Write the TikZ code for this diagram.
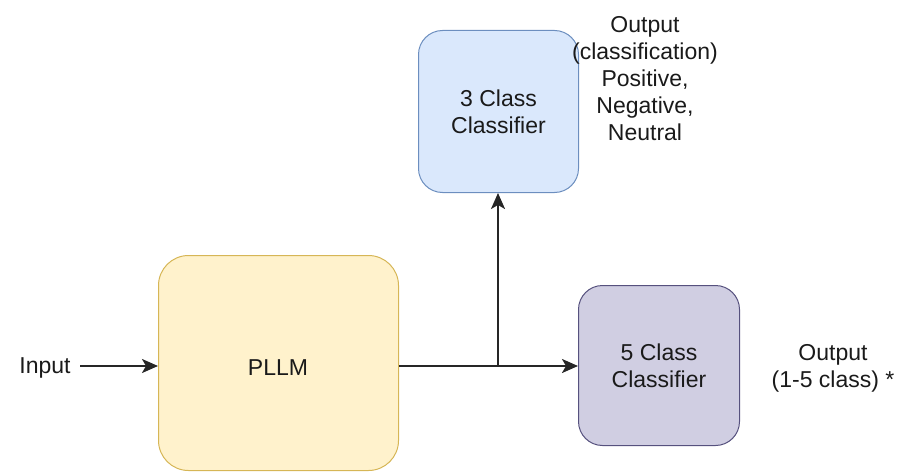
\documentclass[tikz,border=0pt]{standalone}
\usepackage{fontspec}
\setmainfont{Liberation Sans}
\usetikzlibrary{arrows.meta}
\definecolor{yfill}{HTML}{FFF2CC}\definecolor{ydraw}{HTML}{D6B656}
\definecolor{bfill}{HTML}{DAE8FC}\definecolor{bdraw}{HTML}{6C8EBF}
\definecolor{pfill}{HTML}{D0CEE2}\definecolor{pdraw}{HTML}{56517E}
\definecolor{txt}{HTML}{1A1A1A}
\begin{document}
\begin{tikzpicture}[x=1pt,y=-1pt,
  txtstyle/.style={font=\fontsize{23}{27}\selectfont, text=txt, align=center, inner sep=0pt},
  box/.style={txtstyle, draw, line width=1pt, minimum width=#1, anchor=north west},
  conn/.style={line width=2.2pt, draw=black!85, -{Stealth[length=16pt,width=14pt,inset=4pt]}}]
\useasboundingbox (0,0) rectangle (901,473);
\node[box=240pt, minimum height=215pt, fill=yfill, draw=ydraw, rounded corners=30pt] (pllm) at (158,255) {};
\node[txtstyle] (pllmtxt) at (278,368) {PLLM};
\node[box=160pt, minimum height=162pt, fill=bfill, draw=bdraw, rounded corners=24pt] (c3) at (418,30) {3 Class\\Classifier};
\node[box=161pt, minimum height=160pt, fill=pfill, draw=pdraw, rounded corners=24pt] (c5) at (578,285) {5 Class\\Classifier};
\node[txtstyle] (in) at (45,368) {Input};
\node[txtstyle] (o3) at (645,79) {Output\\(classification)\\Positive,\\Negative,\\Neutral};
\node[txtstyle] (o5) at (833,368) {Output\\(1-5 class) *};
\coordinate (inend) at (80,366);
\coordinate (j) at (498,366);
\draw[conn] (inend) -- (inend -| pllm.west);
\draw[conn] (j -| pllm.east) -- (j -| c5.west);
\draw[conn] (j) -- (j |- c3.south);
\end{tikzpicture}
\end{document}
